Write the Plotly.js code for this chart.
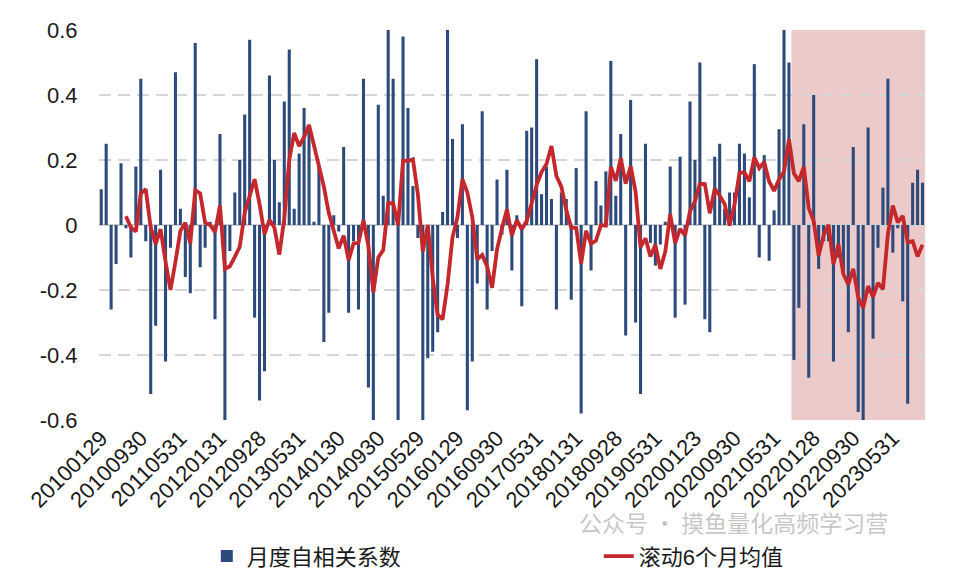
<!DOCTYPE html>
<html>
<head>
<meta charset="utf-8">
<script src="https://cdn.plot.ly/plotly-3.0.1.min.js"></script>
<style>
  body { margin: 0; background: #fff; }
  #chart { width: 953px; height: 577px; }
</style>
</head>
<body>
<div id="chart"></div>
<script>
"use strict"

// monthly autocorrelation, 2010-01 .. 2023-11 (one value per month end)
var monthlyAutocorr = [
   0.11,  0.25, -0.26, -0.12,  0.19, -0.01, -0.10,  0.18,  0.45, -0.05,
  -0.52, -0.31,  0.17, -0.42, -0.07,  0.47,  0.05, -0.16, -0.21,  0.56,
  -0.13, -0.07,  0.01, -0.29,  0.28, -0.61, -0.08,  0.10,  0.20,  0.34,
   0.57, -0.285,-0.54, -0.45,  0.46,  0.20,  0.07,  0.38,  0.54,  0.05,
   0.22,  0.36,  0.30,  0.01,  0.18, -0.36, -0.27,  0.03, -0.02,  0.24,
  -0.27, -0.05, -0.26,  0.45, -0.50, -0.61,  0.37,  0.09,  0.60,  0.45,
  -0.90,  0.58,  0.36,  0.12, -0.04, -0.61, -0.41, -0.39, -0.33,  0.04,
   0.60,  0.265,-0.04,  0.31, -0.57, -0.42, -0.18,  0.35, -0.26, -0.08,
   0.14, -0.03,  0.17, -0.14,  0.03, -0.25,  0.29,  0.30,  0.51,  0.095,
   0.18,  0.08, -0.26,  0.10,  0.08, -0.23,  0.175,-0.58,  0.35, -0.14,
   0.135, 0.06,  0.165, 0.505, 0.09,  0.28, -0.34,  0.385,-0.30, -0.52,
   0.25, -0.055,-0.125,-0.06,  0.01,  0.18, -0.285, 0.21, -0.245, 0.38,
   0.20,  0.50, -0.29, -0.33,  0.21,  0.25,  0.05,  0.10,  0.10,  0.25,
   0.22,  0.085, 0.495,-0.10,  0.215,-0.11,  0.045, 0.295, 0.64,  0.50,
  -0.415,-0.255, 0.31, -0.47,  0.40, -0.135,-0.05, -0.05, -0.42, -0.10,
  -0.15, -0.33,  0.24, -0.575,-0.61,  0.30, -0.35, -0.07,  0.115, 0.45,
  -0.085,-0.01, -0.235,-0.55,  0.13,  0.17,  0.13
];

// rolling 6-month mean
var rolling6m = [
   null,  null,  null,  null,  null,  0.027,-0.008,-0.02,  0.098, 0.11,
  -0.008,-0.058,-0.013,-0.113,-0.20, -0.113,-0.018, 0.007,-0.057, 0.107,
   0.097, 0.007, 0.0,  -0.022, 0.06, -0.135,-0.127,-0.098,-0.067, 0.038,
   0.087, 0.141, 0.064,-0.028, 0.016,-0.008,-0.091, 0.02,  0.20,  0.283,
   0.243, 0.27,  0.308, 0.247, 0.187, 0.118, 0.037,-0.018,-0.072,-0.033,
  -0.108,-0.057,-0.055, 0.015,-0.065,-0.207,-0.10, -0.077, 0.067, 0.067,
   0.0,   0.198, 0.197, 0.202, 0.095,-0.082, 0.0,  -0.162,-0.277,-0.29,
  -0.183,-0.038, 0.024, 0.141, 0.10,  0.024,-0.106,-0.092,-0.128,-0.193,
  -0.075,-0.01,  0.048,-0.033, 0.015,-0.013, 0.012, 0.067, 0.123, 0.163,
   0.188, 0.243, 0.151, 0.118, 0.046,-0.008,-0.009,-0.119,-0.018,-0.058,
  -0.048, 0.0,  -0.002, 0.179, 0.136, 0.206, 0.127, 0.181, 0.103,-0.068,
  -0.041,-0.097,-0.061,-0.135,-0.083, 0.033,-0.056,-0.012,-0.032, 0.042,
   0.073, 0.127, 0.126, 0.036, 0.112, 0.09,  0.065,-0.002, 0.063, 0.16,
   0.162, 0.134, 0.208, 0.175, 0.194, 0.134, 0.105, 0.14,  0.164, 0.264,
   0.159, 0.135, 0.179, 0.052, 0.012,-0.094,-0.033, 0.001,-0.121,-0.059,
  -0.151,-0.183,-0.135,-0.223,-0.254,-0.188,-0.221,-0.178,-0.198,-0.028,
   0.06,  0.008, 0.028,-0.053,-0.05, -0.097,-0.061
];

// every 8th month end is labelled
var tickLabels = [
  "20100129", "20100930", "20110531", "20120131", "20120928", "20130531",
  "20140130", "20140930", "20150529", "20160129", "20160930", "20170531",
  "20180131", "20180928", "20190531", "20200123", "20200930", "20210531",
  "20220128", "20220930", "20230531"
];

var yTicks = [-0.6, -0.4, -0.2, 0, 0.2, 0.4, 0.6];

var shadeStart = 139.5;   // highlighted period starts 2021-09

var months = monthlyAutocorr.map(function(v, i) { return i; });
var tickPos = tickLabels.map(function(t, k) { return k * 8; });

var fontFamily = "Liberation Sans, Arial, Noto Sans CJK SC, sans-serif";

var traces = [
  {
    type: "bar",
    name: "月度自相关系数",
    x: months,
    y: monthlyAutocorr,
    width: 0.62,
    marker: { color: "#2c4a7c", line: { width: 0 } },
    hoverinfo: "y"
  },
  {
    type: "scatter",
    mode: "lines",
    name: "滚动6个月均值",
    x: months,
    y: rolling6m,
    line: { color: "#c5282c", width: 3.8 },
    hoverinfo: "y"
  }
];

var layout = {
  width: 953,
  height: 577,
  margin: { l: 99, r: 28, t: 30, b: 157 },
  paper_bgcolor: "#ffffff",
  plot_bgcolor: "#ffffff",
  font: { family: fontFamily, size: 21, color: "#1a1a1a" },
  showlegend: true,
  legend: {
    orientation: "h",
    xref: "container",
    yref: "container",
    x: 0.217,
    xanchor: "left",
    y: 0.036,
    yanchor: "middle",
    font: { size: 22, color: "#1a1a1a" },
    entrywidth: 347,
    tracegroupgap: 0,
    bgcolor: "rgba(0,0,0,0)"
  },
  xaxis: {
    automargin: false,
    range: [-0.45, monthlyAutocorr.length - 0.5],
    tickvals: tickPos,
    ticktext: tickLabels,
    tickangle: -45,
    tickfont: { size: 22 },
    showgrid: false,
    zeroline: false,
    showline: false,
    ticks: ""
  },
  yaxis: {
    automargin: false,
    range: [-0.6, 0.6],
    tickvals: yTicks,
    ticktext: yTicks.map(function(v) { return v === 0 ? "0" : String(v); }),
    tickfont: { size: 22 },
    showgrid: true,
    gridcolor: "#d6d6d6",
    gridwidth: 2,
    griddash: "12px,7px",
    zeroline: true,
    zerolinecolor: "#cfcfcf",
    zerolinewidth: 2.5,
    showline: false,
    ticks: "outside",
    ticklen: 16,
    tickcolor: "rgba(0,0,0,0)"
  },
  shapes: [
    {
      type: "rect",
      layer: "below",
      xref: "x",
      yref: "y",
      x0: shadeStart,
      x1: monthlyAutocorr.length - 0.5,
      y0: -0.6,
      y1: 0.6,
      fillcolor: "#eccaca",
      line: { width: 0 }
    }
  ],
  annotations: [
    {
      xref: "paper",
      yref: "paper",
      x: 0.579,
      y: -0.262,
      xanchor: "left",
      yanchor: "middle",
      text: "公众号 · 摸鱼量化高频学习营",
      showarrow: false,
      font: { size: 23, color: "rgba(160,160,160,0.6)", family: "Noto Sans CJK SC, sans-serif" }
    }
  ]
};

Plotly.newPlot("chart", traces, layout, { displayModeBar: false, staticPlot: true });
</script>
</body>
</html>
